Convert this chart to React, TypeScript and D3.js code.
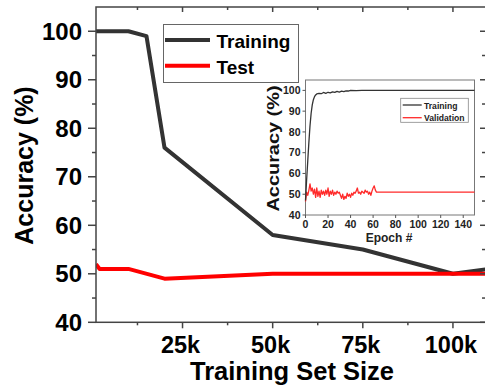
import React from "react";
import * as d3 from "d3";

// main chart data
const sizes = [1000, 10000, 15000, 20000, 50000, 75000, 100000, 110000];
const trainAcc = [100, 100, 99, 76, 58, 55, 50, 51];
const testSizes = [1000, 2000, 10000, 20000, 50000, 75000, 100000, 110000];
const testAcc = [52, 51, 51, 49, 50, 50, 50, 50];
const xTicks = [25000, 50000, 75000, 100000];
const xTickLabels = ["25k", "50k", "75k", "100k"];
const yTicks = [40, 50, 60, 70, 80, 90, 100];

// inset data (epoch, accuracy)
const insetTrain: [number, number][] = [
  [0, 47], [1, 57], [2, 66], [3, 75], [4, 83], [5, 89], [6, 93], [7, 95.5],
  [8, 97], [9, 97.8], [10, 98.3], [12, 98.6], [14, 98.4], [16, 99], [18, 98.6],
  [20, 99.1], [22, 98.8], [24, 99.3], [26, 99], [28, 99.5], [30, 99.2],
  [32, 99.6], [34, 99.4], [36, 99.8], [38, 99.7], [40, 100], [45, 99.9],
  [50, 100], [150, 100],
];
const insetVal: [number, number][] = [
  [0, 46.5], [1, 51], [2, 49.5], [3, 52], [4, 55], [5, 51.5], [6, 53], [7, 50],
  [8, 52.5], [9, 48.5], [10, 53], [11, 49], [12, 51.5], [13, 48.5], [14, 52],
  [15, 50], [16, 51.5], [17, 49.5], [18, 52], [19, 50], [20, 53], [21, 49],
  [22, 51.5], [23, 50], [24, 52], [25, 49.5], [26, 51], [27, 50], [28, 51.5],
  [29, 50.5], [30, 51], [31, 49.5], [32, 48], [33, 50], [34, 47.5], [35, 49],
  [36, 48], [37, 50.5], [38, 49], [39, 50], [40, 48.5], [41, 50.5], [42, 49.5],
  [43, 51], [44, 50.5], [45, 51.5], [46, 53], [47, 50.5], [48, 51], [49, 50],
  [50, 51.5], [51, 51], [52, 50.5], [53, 52], [54, 51], [55, 51.5], [56, 50],
  [57, 51], [58, 49.5], [59, 51.5], [60, 53], [61, 54], [62, 52], [63, 51],
  [150, 51],
];
const insetXTicks = [0, 20, 40, 60, 80, 100, 120, 140];
const insetYTicks = [40, 50, 60, 70, 80, 90, 100];

const FONT = "'Liberation Sans', Arial, sans-serif";

export default function App() {
  const W = 485;
  const H = 391;
  const plot = { left: 96, right: 489, top: 7, bottom: 322.3 };

  const x = d3.scaleLinear().domain([1000, 110000]).range([plot.left, plot.right]);
  const y = d3.scaleLinear().domain([40, 105]).range([plot.bottom, plot.top]);

  const line = d3
    .line<[number, number]>()
    .x((d) => x(d[0]))
    .y((d) => y(d[1]));

  const trainPts = sizes.map((s, i) => [s, trainAcc[i]] as [number, number]);
  const testPts = testSizes.map((s, i) => [s, testAcc[i]] as [number, number]);

  const minorX = d3.range(12500, 110000, 25000);
  const minorY = d3.range(45, 105, 10);

  // inset
  const ins = { left: 305.5, right: 474.5, top: 80, bottom: 215 };
  const ix = d3.scaleLinear().domain([0, 150]).range([ins.left, ins.right]);
  const iy = d3.scaleLinear().domain([40, 105]).range([ins.bottom, ins.top]);
  const iline = d3
    .line<[number, number]>()
    .x((d) => ix(d[0]))
    .y((d) => iy(d[1]));

  const axisColor = "#444";

  return (
    <svg
      width={W}
      height={H}
      style={{ position: "absolute", left: 0, top: 0, background: "#fff" }}
      fontFamily={FONT}
      fontWeight="bold"
    >
      <defs>
        <clipPath id="plotClip">
          <rect x={plot.left} y={plot.top} width={plot.right - plot.left} height={plot.bottom - plot.top} />
        </clipPath>
      </defs>

      {/* main lines */}
      <g clipPath="url(#plotClip)" fill="none" strokeLinejoin="round">
        <path d={line(trainPts) ?? ""} stroke="#333" strokeWidth={4} />
        <path d={line(testPts) ?? ""} stroke="#ff0000" strokeWidth={4} />
      </g>

      {/* frame */}
      <rect
        x={plot.left}
        y={plot.top}
        width={plot.right - plot.left}
        height={plot.bottom - plot.top}
        fill="none"
        stroke={axisColor}
        strokeWidth={1.5}
      />

      {/* ticks */}
      <g stroke={axisColor} strokeWidth={1.5}>
        {xTicks.map((t) => (
          <g key={t}>
            <line x1={x(t)} x2={x(t)} y1={plot.bottom} y2={plot.bottom + 6} />
            <line x1={x(t)} x2={x(t)} y1={plot.top} y2={plot.top + 5} />
          </g>
        ))}
        {minorX.map((t) => (
          <g key={t}>
            <line x1={x(t)} x2={x(t)} y1={plot.bottom} y2={plot.bottom + 3} />
            <line x1={x(t)} x2={x(t)} y1={plot.top} y2={plot.top + 3} />
          </g>
        ))}
        {yTicks.map((t) => (
          <g key={t}>
            <line x1={plot.left - 8} x2={plot.left} y1={y(t)} y2={y(t)} />
            <line x1={480} x2={485} y1={y(t)} y2={y(t)} />
          </g>
        ))}
        {minorY.map((t) => (
          <g key={t}>
            <line x1={plot.left - 4} x2={plot.left} y1={y(t)} y2={y(t)} />
            <line x1={482} x2={485} y1={y(t)} y2={y(t)} />
          </g>
        ))}
      </g>

      {/* tick labels */}
      <g fill="#000">
        {yTicks.map((t) => (
          <text key={t} x={plot.left - 14} y={y(t)} dy="0.36em" textAnchor="end" fontSize={24}>
            {t}
          </text>
        ))}
        {xTicks.map((t, i) => (
          <text key={t} x={x(t) - 2} y={352.5} textAnchor="middle" fontSize={23.5}>
            {xTickLabels[i]}
          </text>
        ))}
      </g>

      {/* axis titles */}
      <text x={292} y={380} fontSize={25.5} textAnchor="middle" fill="#000">
        Training Set Size
      </text>
      <text
        transform="translate(33,165.5) rotate(-90)"
        fontSize={25}
        textAnchor="middle"
        fill="#000"
      >
        Accuracy (%)
      </text>

      {/* legend */}
      <rect x={163.5} y={24.5} width={135} height={58} fill="#fff" stroke="#666" strokeWidth={1} />
      <line x1={165} x2={210} y1={40} y2={40} stroke="#333" strokeWidth={4} />
      <line x1={165} x2={210} y1={65.7} y2={65.7} stroke="#ff0000" strokeWidth={4} />
      <text x={216.5} y={48.3} fontSize={19} fill="#000">Training</text>
      <text x={216.5} y={74.3} fontSize={19} fill="#000">Test</text>

      {/* inset */}
      <g>
        <rect
          x={ins.left}
          y={ins.top}
          width={ins.right - ins.left}
          height={ins.bottom - ins.top}
          fill="#fff"
          stroke="#777"
          strokeWidth={1}
        />
        <g fill="none" strokeLinejoin="round">
          <path d={iline(insetVal) ?? ""} stroke="#ff2a2a" strokeWidth={1.3} />
          <path d={iline(insetTrain) ?? ""} stroke="#333" strokeWidth={1.3} />
        </g>
        <g stroke="#555" strokeWidth={1}>
          {insetYTicks.map((t) => (
            <line key={t} x1={ins.left - 3} x2={ins.left} y1={iy(t)} y2={iy(t)} />
          ))}
          {insetXTicks.map((t) => (
            <line key={t} x1={ix(t)} x2={ix(t)} y1={ins.bottom} y2={ins.bottom + 3} />
          ))}
        </g>
        <g fill="#222" fontSize={10.5}>
          {insetYTicks.map((t) => (
            <text key={t} x={ins.left - 5} y={iy(t)} dy="0.36em" textAnchor="end">
              {t}
            </text>
          ))}
          {insetXTicks.map((t) => (
            <text key={t} x={ix(t)} y={228} textAnchor="middle">
              {t}
            </text>
          ))}
        </g>
        <text x={389} y={241.5} fontSize={12} textAnchor="middle" fill="#222">
          Epoch #
        </text>
        <text
          transform="translate(279,148.5) rotate(-90)"
          fontSize={16}
          textAnchor="middle"
          fill="#111"
          textLength={126}
          lengthAdjust="spacingAndGlyphs"
        >
          Accuracy (%)
        </text>
        {/* inset legend */}
        <rect x={400.7} y={98.3} width={67.6} height={24} fill="#fff" stroke="#888" strokeWidth={0.8} />
        <line x1={402.7} x2={421.7} y1={105} y2={105} stroke="#333" strokeWidth={1.3} />
        <line x1={402.7} x2={421.7} y1={117.7} y2={117.7} stroke="#ff2a2a" strokeWidth={1.3} />
        <text x={424} y={108.5} fontSize={8.6} fill="#222">Training</text>
        <text x={424} y={121} fontSize={8.6} fill="#222">Validation</text>
      </g>
    </svg>
  );
}
